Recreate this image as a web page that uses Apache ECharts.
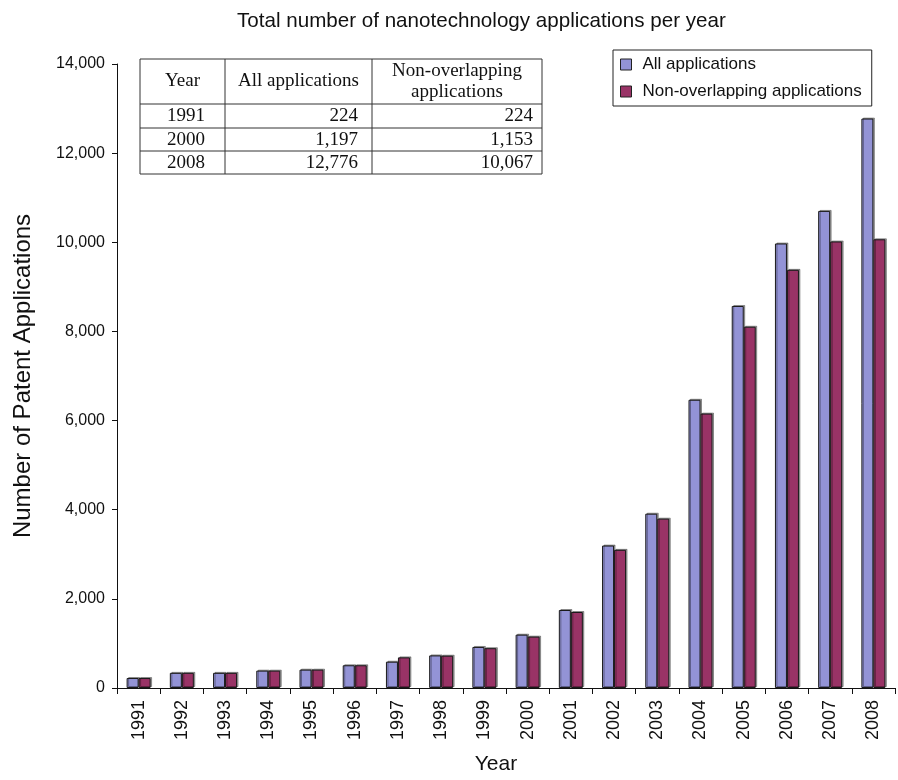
<!DOCTYPE html>
<html>
<head>
<meta charset="utf-8">
<script src="https://cdn.jsdelivr.net/npm/echarts@6/dist/echarts.min.js"></script>
<style>
html,body{margin:0;padding:0;background:#fff;}
#chart{width:898px;height:780px;}
</style>
</head>
<body>
<div id="chart"></div>
<script>
const years = ['1991','1992','1993','1994','1995','1996','1997','1998','1999','2000','2001','2002','2003','2004','2005','2006','2007','2008'];
const allApps = [224, 340, 340, 390, 412, 510, 590, 731, 921, 1197, 1750, 3196, 3911, 6467, 8571, 9973, 10704, 12776];
const nonOverlap = [224, 340, 340, 390, 412, 510, 687, 725, 893, 1153, 1705, 3100, 3800, 6157, 8106, 9382, 10018, 10067];
const seriesNames = ['All applications', 'Non-overlapping applications'];
const yTicks = [0, 2000, 4000, 6000, 8000, 10000, 12000, 14000];
const tableYears = ['1991', '2000', '2008'];
const tableAll = [224, 1197, 12776];
const tableNon = [224, 1153, 10067];
const tableHeader = ['Year', 'All applications', 'Non-overlapping\napplications'];

const SANS = "'Liberation Sans', Arial, Helvetica, sans-serif";
const SERIF = "'Liberation Serif', 'Times New Roman', serif";
const fmt = v => v.toLocaleString('en-US');

// table layout
const tX = [140, 225, 372, 542];
const tY = [59, 104, 128, 151, 174];
const g = [];
g.push({type:'rect', shape:{x:tX[0], y:tY[0], width:tX[3]-tX[0], height:tY[4]-tY[0]}, style:{fill:'#fff', stroke:'#333', lineWidth:1}, z:10});
[tX[1], tX[2]].forEach(x => g.push({type:'line', shape:{x1:x, y1:tY[0], x2:x, y2:tY[4]}, style:{stroke:'#333', lineWidth:1}, z:11}));
[tY[1], tY[2], tY[3]].forEach(y => g.push({type:'line', shape:{x1:tX[0], y1:y, x2:tX[3], y2:y}, style:{stroke:'#333', lineWidth:1}, z:11}));
const ts = {font: '19px ' + SERIF, fill:'#111'};
tableHeader.forEach((h, i) => {
  g.push({type:'text', x:(tX[i]+tX[i+1])/2, y:(tY[0]+tY[1])/2, z:12,
    style:Object.assign({text:h, textAlign:'center', textVerticalAlign:'middle', lineHeight:21}, ts)});
});
tableYears.forEach((yr, r) => {
  const cy = (tY[r+1]+tY[r+2])/2 + 0.5;
  g.push({type:'text', x:205, y:cy, z:12, style:Object.assign({text:yr, textAlign:'right', textVerticalAlign:'middle'}, ts)});
  g.push({type:'text', x:358, y:cy, z:12, style:Object.assign({text:fmt(tableAll[r]), textAlign:'right', textVerticalAlign:'middle'}, ts)});
  g.push({type:'text', x:533, y:cy, z:12, style:Object.assign({text:fmt(tableNon[r]), textAlign:'right', textVerticalAlign:'middle'}, ts)});
});

const chart = echarts.init(document.getElementById('chart'), null, {renderer:'canvas'});
const barStyle = (color) => ({color, borderColor:'#1a1a1a', borderWidth:1,
  shadowColor:'rgba(0,0,0,0.35)', shadowOffsetX:1.5, shadowOffsetY:-1, shadowBlur:0});
chart.setOption({
  animation:false,
  backgroundColor:'#fff',
  title:{text:'Total number of nanotechnology applications per year', left:232, top:6,
    textStyle:{fontFamily:SANS, fontSize:20.6, fontWeight:'normal', color:'#111'}},
  legend:{orient:'vertical', left:613, top:50, padding:[6,10,6,7], itemGap:10,
    itemWidth:11, itemHeight:11, icon:'rect',
    borderColor:'#222', borderWidth:1, backgroundColor:'#fff',
    itemStyle:{borderColor:'#222', borderWidth:1, shadowBlur:0, shadowOffsetX:0, shadowOffsetY:0, shadowColor:'transparent'},
    textStyle:{fontFamily:SANS, fontSize:17, lineHeight:17, color:'#111', padding:[0,0,0,6]},
    data:seriesNames},
  grid:{left:117, right:3, top:64, bottom:85.5, containLabel:false},
  xAxis:{type:'category', data:years, name:'Year', nameLocation:'middle', nameGap:66,
    nameTextStyle:{fontFamily:SANS, fontSize:21, color:'#111', padding:[0,20,0,0]},
    axisLine:{lineStyle:{color:'#111', width:1}},
    axisTick:{show:true, length:6, interval:0, lineStyle:{color:'#111'}},
    axisLabel:{rotate:90, interval:0, margin:12, fontFamily:SANS, fontSize:18, color:'#111'}},
  yAxis:{type:'value', min:yTicks[0], max:yTicks[yTicks.length-1], interval:2000,
    name:'Number of Patent Applications', nameLocation:'middle', nameGap:82,
    nameTextStyle:{fontFamily:SANS, fontSize:24, color:'#111'},
    axisLine:{show:true, lineStyle:{color:'#111', width:1}},
    axisTick:{show:true, length:5, lineStyle:{color:'#111'}},
    splitLine:{show:false},
    axisLabel:{margin:12, fontFamily:SANS, fontSize:16, color:'#111', formatter:v => fmt(v)}},
  series:[
    {name:seriesNames[0], type:'bar', data:allApps, barWidth:12, barGap:'0%', itemStyle:barStyle('#9393d6')},
    {name:seriesNames[1], type:'bar', data:nonOverlap, barWidth:12, barGap:'0%', itemStyle:barStyle('#993366')}
  ],
  graphic:g
});
</script>
</body>
</html>
